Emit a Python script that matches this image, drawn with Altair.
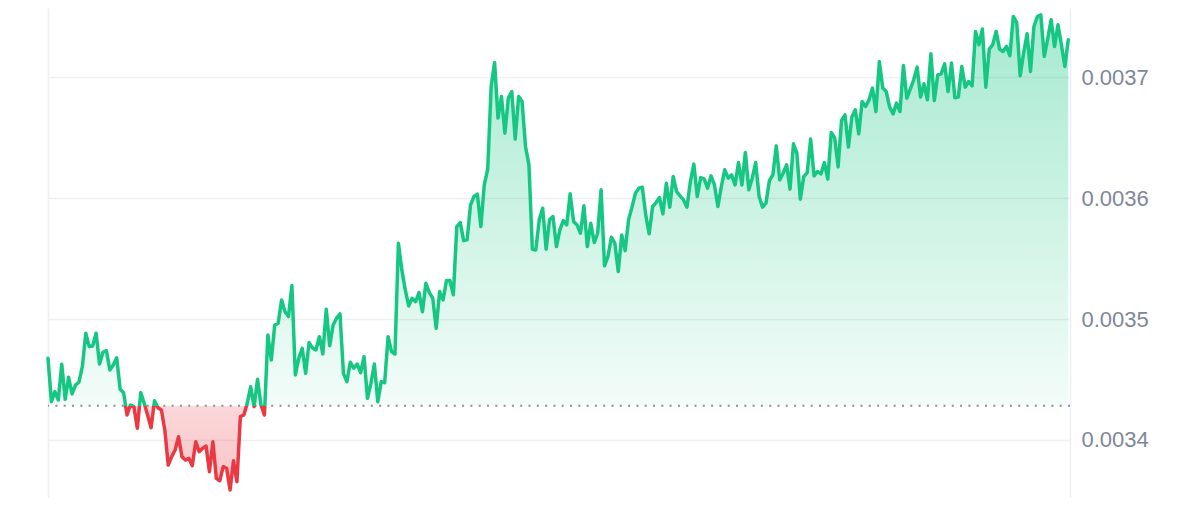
import altair as alt
import pandas as pd

# price readings (24h, evenly spaced samples)
seg1 = [0.0034676, 0.0034317, 0.0034400, 0.0034331, 0.0034627, 0.0034337, 0.0034519, 0.0034381,
        0.0034455, 0.0034478, 0.0034607, 0.0034883, 0.0034773, 0.0034778, 0.0034883, 0.0034629,
        0.0034726, 0.0034739, 0.0034580, 0.0034621, 0.0034681, 0.0034420, 0.0034392, 0.0034207,
        0.0034290, 0.0034276, 0.0034097, 0.0034392, 0.0034304, 0.0034207, 0.0034102, 0.0034325,
        0.0034267, 0.0034248, 0.0034083, 0.0033793, 0.0033862, 0.0033917, 0.0034027, 0.0033862,
        0.0033834, 0.0033848, 0.0033787, 0.0033986, 0.0033903, 0.0033931, 0.0033950, 0.0033738,
        0.0033986, 0.0033683]
seg2 = [0.0033663, 0.0033779, 0.0033766, 0.0033586, 0.0033829, 0.0033655, 0.0034193, 0.0034207,
        0.0034304, 0.0034441, 0.0034276, 0.0034503, 0.0034290, 0.0034207, 0.0034869, 0.0034662,
        0.0034952, 0.0034966, 0.0035159, 0.0035062, 0.0035021, 0.0035278, 0.0034538, 0.0034676,
        0.0034759, 0.0034552, 0.0034806, 0.0034762, 0.0034745, 0.0034855, 0.0034712, 0.0035082,
        0.0034781, 0.0034952, 0.0035008, 0.0035043, 0.0034552, 0.0034483, 0.0034643, 0.0034594,
        0.0034629, 0.0034557, 0.0034690, 0.0034345, 0.0034469, 0.0034629, 0.0034317, 0.0034483,
        0.0034474, 0.0034855]
seg3 = [0.0034731, 0.0034712, 0.0035629, 0.0035408, 0.0035242, 0.0035110, 0.0035173, 0.0035145,
        0.0035220, 0.0035062, 0.0035297, 0.0035220, 0.0035173, 0.0034925, 0.0035228, 0.0035159,
        0.0035319, 0.0035319, 0.0035201, 0.0035766, 0.0035799, 0.0035650, 0.0035656, 0.0035946,
        0.0036015, 0.0036034, 0.0035766, 0.0036111, 0.0036241, 0.0036925, 0.0037124, 0.0036664,
        0.0036843, 0.0036539, 0.0036829, 0.0036884, 0.0036490, 0.0036843, 0.0036801, 0.0036429,
        0.0036277, 0.0035579, 0.0035573, 0.0035822, 0.0035918, 0.0035579, 0.0035822, 0.0035849,
        0.0035601, 0.0035739]
seg4 = [0.0035816, 0.0035780, 0.0036037, 0.0035808, 0.0035780, 0.0035711, 0.0035938, 0.0035601,
        0.0035794, 0.0035634, 0.0035711, 0.0036070, 0.0035441, 0.0035518, 0.0035678, 0.0035629,
        0.0035394, 0.0035697, 0.0035567, 0.0035822, 0.0035927, 0.0036043, 0.0036084, 0.0036092,
        0.0035863, 0.0035706, 0.0035932, 0.0035965, 0.0036006, 0.0035871, 0.0036125, 0.0035927,
        0.0036180, 0.0036056, 0.0036020, 0.0035987, 0.0035927, 0.0036139, 0.0036283, 0.0036015,
        0.0036172, 0.0036161, 0.0036084, 0.0036186, 0.0036111, 0.0035932, 0.0036097, 0.0036236,
        0.0036167, 0.0036194]
seg5 = [0.0036111, 0.0036296, 0.0036111, 0.0036379, 0.0036070, 0.0036167, 0.0036296, 0.0036015,
        0.0035927, 0.0035960, 0.0036147, 0.0036194, 0.0036434, 0.0036153, 0.0036208, 0.0036277,
        0.0036076, 0.0036451, 0.0036374, 0.0035993, 0.0036180, 0.0036213, 0.0036490, 0.0036186,
        0.0036222, 0.0036202, 0.0036296, 0.0036159, 0.0036544, 0.0036501, 0.0036260, 0.0036644,
        0.0036691, 0.0036424, 0.0036672, 0.0036732, 0.0036534, 0.0036801, 0.0036760, 0.0036815,
        0.0036912, 0.0036718, 0.0037132, 0.0036912, 0.0036884, 0.0036755, 0.0036699, 0.0036788,
        0.0036718, 0.0037099]
seg6 = [0.0036829, 0.0036904, 0.0036981, 0.0037086, 0.0036838, 0.0036948, 0.0036815, 0.0037196,
        0.0036809, 0.0037022, 0.0037030, 0.0037113, 0.0036884, 0.0037119, 0.0036832, 0.0036838,
        0.0037091, 0.0036920, 0.0036967, 0.0036931, 0.0037381, 0.0037271, 0.0037401, 0.0036920,
        0.0037235, 0.0037271, 0.0037381, 0.0037235, 0.0037215, 0.0037257, 0.0037180, 0.0037505,
        0.0037455, 0.0037014, 0.0037202, 0.0037362, 0.0037050, 0.0037422, 0.0037505, 0.0037519,
        0.0037174, 0.0037318, 0.0037478, 0.0037257, 0.0037436, 0.0037271, 0.0037091, 0.0037312]

baseline = 0.0034284
tick_values = [0.0034, 0.0035, 0.0036, 0.0037]
y_domain = [0.003352, 0.0037575]

prices = seg1 + seg2 + seg3 + seg4 + seg5 + seg6
df = pd.DataFrame({"i": list(range(len(prices))), "price": prices, "base": baseline})

GREEN = "#16c784"
RED = "#ea3943"
pmax, pmin = max(prices), min(prices)
f = (pmax - baseline) / (pmax - pmin)

line_grad = alt.Gradient(
    gradient="linear", x1=0, x2=0, y1=0, y2=1,
    stops=[alt.GradientStop(color=GREEN, offset=0),
           alt.GradientStop(color=GREEN, offset=f),
           alt.GradientStop(color=RED, offset=f),
           alt.GradientStop(color=RED, offset=1)],
)
area_grad = alt.Gradient(
    gradient="linear", x1=0, x2=0, y1=0, y2=1,
    stops=[alt.GradientStop(color="rgba(22,199,132,0.38)", offset=0),
           alt.GradientStop(color="rgba(22,199,132,0.05)", offset=f),
           alt.GradientStop(color="rgba(234,57,67,0.20)", offset=f),
           alt.GradientStop(color="rgba(234,57,67,0.30)", offset=1)],
)

x_end = len(prices) - 0.5
x_enc = alt.X(
    "i:Q",
    scale=alt.Scale(domain=[0, x_end], nice=False, zero=False),
    axis=alt.Axis(values=[0, x_end], grid=True, gridColor="#eef0f3", gridWidth=1.7,
                  labels=False, ticks=False, domain=False, title=None),
)
y_enc = alt.Y(
    "price:Q",
    scale=alt.Scale(domain=y_domain, nice=False, zero=False),
    axis=alt.Axis(orient="right", values=tick_values, format=".4f", grid=True,
                  gridColor="#eef0f3", gridWidth=1.5, ticks=False, tickSize=0,
                  domain=False, labelPadding=11, labelFontSize=22,
                  labelFont="Liberation Sans", labelColor="#7e8899", title=None),
)

base = alt.Chart(df)
area = base.mark_area(fill=area_grad, interpolate="linear").encode(x=x_enc, y=y_enc, y2="base:Q")
rule = alt.Chart(pd.DataFrame({"base": [baseline]})).mark_rule(
    color="#8c9099", strokeWidth=2, strokeDash=[2, 6.3]
).encode(y=alt.Y("base:Q", scale=alt.Scale(domain=y_domain, nice=False, zero=False)))
line = base.mark_line(stroke=line_grad, strokeWidth=3.5, strokeJoin="round", strokeCap="round").encode(
    x=x_enc, y=y_enc
)

chart = alt.layer(area, rule, line).properties(
    width=1022, height=490,
    padding={"left": 38, "top": 0, "right": 5, "bottom": 0},
    background="white",
).configure_view(stroke=None)

chart.save("out.html", embed_options={"renderer": "svg", "actions": False})
